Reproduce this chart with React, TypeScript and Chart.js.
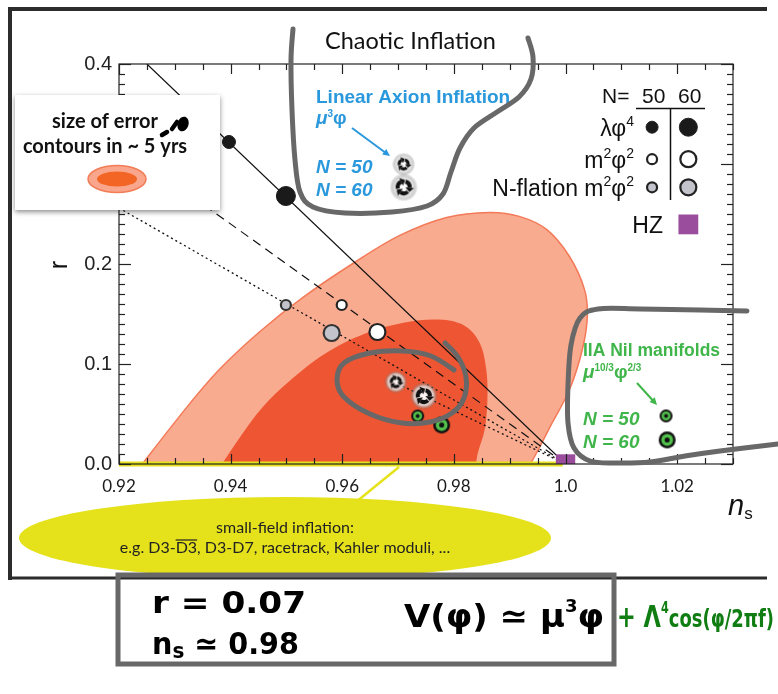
import React, { useEffect, useRef } from "react";
import { Chart, registerables } from "chart.js";

Chart.register(...registerables);

// ---------------- axes ----------------
const xRange = [0.92, 1.03];
const yRange = [0, 0.4];
const xTickValues = [0.92, 0.94, 0.96, 0.98, 1.0, 1.02];
const xTickLabels = ["0.92", "0.94", "0.96", "0.98", "1.0", "1.02"];
const yTickValues = [0, 0.1, 0.2, 0.3, 0.4];
const yTickLabels = ["0.0", "0.1", "0.2", "0.3", "0.4"];

// ---------------- error contours (ns, r) ----------------
const outerContourNs = [0.9225, 0.9322, 0.9381, 0.9452, 0.9529, 0.9619, 0.9703, 0.9787, 0.9864, 0.9917, 0.9966, 1.0007, 1.0034, 1.0039, 1.003, 1.0007, 0.9976, 0.9948, 0.9925];
const outerContourR = [-0.012, 0.0571, 0.0952, 0.1323, 0.1664, 0.2005, 0.2286, 0.2466, 0.2516, 0.2476, 0.2346, 0.2075, 0.1744, 0.1474, 0.1143, 0.0742, 0.0411, 0.011, -0.012];
const innerContourNs = [0.937, 0.9417, 0.9456, 0.9506, 0.9569, 0.964, 0.9712, 0.9774, 0.9819, 0.9846, 0.9858, 0.986, 0.9855, 0.9842, 0.9838];
const innerContourR = [-0.012, 0.0271, 0.0561, 0.0832, 0.1103, 0.1303, 0.1414, 0.1444, 0.1383, 0.1213, 0.0942, 0.0642, 0.0341, 0.009, -0.012];

// ---------------- model lines ----------------
const phi4LineNs = [0.925, 1.0];
const phi4LineR = [0.4, 0.0];
const m2LineNs = [0.92, 1.0];
const m2LineR = [0.32, 0.0];
const nflationLineNs = [0.92, 1.0];
const nflationLineR = [0.256, 0.0];
const axionLineNs = [0.97, 1.0];
const axionLineR = [0.08, 0.0];
const smallFieldNs = [0.92, 0.9995];
const smallFieldR = [0.0, 0.0];

// ---------------- model points (N = 50, N = 60) ----------------
const phi4Ns = [0.9397, 0.9499];
const phi4R = [0.322, 0.268];
const m2Ns = [0.9599, 0.9663];
const m2R = [0.159, 0.132];
const nflationNs = [0.9499, 0.9581];
const nflationR = [0.159, 0.131];
const axionNs = [0.9696, 0.9746];
const axionR = [0.082, 0.068];
const nilNs = [0.9735, 0.9778];
const nilR = [0.048, 0.039];
const hzNs = [1.0];
const hzR = [0.0];

// ---------------- legend marker positions (data coords) ----------------
const legendSmallNs = 1.0155;
const legendLargeNs = 1.022;
const legendRowR = [0.3368, 0.3048, 0.2767];
const legendHzR = 0.2396;
const axionKeyNs = [0.971, 0.971];
const axionKeyR = [0.2998, 0.2767];
const nilKeyNs = [1.018, 1.0182];
const nilKeyR = [0.0481, 0.0241];

const SANS = "'Liberation Sans', Arial, sans-serif";
const GILL = "Lato, 'Open Sans', sans-serif";
const HAND = "'DejaVu Sans', sans-serif";
const BLUE = "#2a98dc";
const GREEN = "#3fb54a";
const GRAY = "#686868";
const YELLOW = "#e5e21c";

const pts = (xs: number[], ys: number[]) => xs.map((x, i) => ({ x, y: ys[i] }));

function makeRecycle(size: number): HTMLCanvasElement {
  const pad = 4;
  const c = document.createElement("canvas");
  c.width = c.height = size + pad * 2;
  const g = c.getContext("2d")!;
  const cx = c.width / 2, cy = c.height / 2, R = size / 2;
  const grad = g.createRadialGradient(cx, cy, R * 0.2, cx, cy, R + pad);
  grad.addColorStop(0, "rgba(255,255,255,0.95)");
  grad.addColorStop(0.65, "rgba(215,215,215,0.85)");
  grad.addColorStop(1, "rgba(90,90,90,0)");
  g.fillStyle = grad;
  g.beginPath();
  g.arc(cx, cy, R + pad, 0, Math.PI * 2);
  g.fill();
  g.strokeStyle = "#111";
  g.fillStyle = "#111";
  g.lineWidth = Math.max(2, size * 0.2);
  for (let k = 0; k < 3; k++) {
    const a0 = -Math.PI / 2 + (k * 2 * Math.PI) / 3 + 0.3;
    const a1 = a0 + (2 * Math.PI) / 3 - 0.75;
    g.beginPath();
    g.arc(cx, cy, R * 0.6, a0, a1);
    g.stroke();
    const hx = cx + R * 0.6 * Math.cos(a1), hy = cy + R * 0.6 * Math.sin(a1);
    const t = a1 + Math.PI / 2;
    const s = size * 0.22;
    g.beginPath();
    g.moveTo(hx + Math.cos(t) * s, hy + Math.sin(t) * s);
    g.lineTo(hx + Math.cos(t - Math.PI / 2) * s, hy + Math.sin(t - Math.PI / 2) * s);
    g.lineTo(hx + Math.cos(t + Math.PI / 2) * s, hy + Math.sin(t + Math.PI / 2) * s);
    g.closePath();
    g.fill();
  }
  return c;
}

function makeNil(R: number, ring: number): HTMLCanvasElement {
  const c = document.createElement("canvas");
  c.width = c.height = Math.ceil(2 * R + 2);
  const g = c.getContext("2d")!;
  const cx = c.width / 2, cy = c.height / 2;
  const circ = (r: number, col: string) => {
    g.fillStyle = col;
    g.beginPath();
    g.arc(cx, cy, r, 0, Math.PI * 2);
    g.fill();
  };
  circ(R, "#111");
  circ(R - ring, "#52c04c");
  circ(R * 0.3, "#111");
  return c;
}

type Part = { t: string; font: string; dy?: number };
function drawParts(
  ctx: CanvasRenderingContext2D,
  x: number,
  y: number,
  parts: Part[],
  color: string,
  align: "left" | "right" | "center" = "left",
  fitWidth?: number
) {
  ctx.save();
  ctx.textAlign = "left";
  ctx.textBaseline = "alphabetic";
  ctx.fillStyle = color;
  let total = 0;
  const ws = parts.map((p) => {
    ctx.font = p.font;
    const w = ctx.measureText(p.t).width;
    total += w;
    return w;
  });
  const sx = fitWidth ? fitWidth / total : 1;
  const W = total * sx;
  const x0 = align === "left" ? x : align === "right" ? x - W : x - W / 2;
  ctx.translate(x0, y);
  ctx.scale(sx, 1);
  let cx = 0;
  parts.forEach((p, i) => {
    ctx.font = p.font;
    ctx.fillText(p.t, cx, p.dy || 0);
    cx += ws[i];
  });
  ctx.restore();
}

function arrow(ctx: CanvasRenderingContext2D, x1: number, y1: number, x2: number, y2: number, color: string) {
  const a = Math.atan2(y2 - y1, x2 - x1);
  const hs = 8;
  ctx.save();
  ctx.strokeStyle = color;
  ctx.fillStyle = color;
  ctx.lineWidth = 2;
  ctx.beginPath();
  ctx.moveTo(x1, y1);
  ctx.lineTo(x2 - Math.cos(a) * hs * 0.8, y2 - Math.sin(a) * hs * 0.8);
  ctx.stroke();
  ctx.beginPath();
  ctx.moveTo(x2, y2);
  ctx.lineTo(x2 - hs * Math.cos(a - 0.45), y2 - hs * Math.sin(a - 0.45));
  ctx.lineTo(x2 - hs * Math.cos(a + 0.45), y2 - hs * Math.sin(a + 0.45));
  ctx.closePath();
  ctx.fill();
  ctx.restore();
}

function smooth(ctx: CanvasRenderingContext2D, p: number[][]) {
  ctx.beginPath();
  ctx.moveTo(p[0][0], p[0][1]);
  for (let i = 0; i < p.length - 1; i++) {
    const p0 = p[i - 1] || p[i];
    const p1 = p[i];
    const p2 = p[i + 1];
    const p3 = p[i + 2] || p2;
    ctx.bezierCurveTo(
      p1[0] + (p2[0] - p0[0]) / 6,
      p1[1] + (p2[1] - p0[1]) / 6,
      p2[0] - (p3[0] - p1[0]) / 6,
      p2[1] - (p3[1] - p1[1]) / 6,
      p2[0],
      p2[1]
    );
  }
  ctx.stroke();
}

const decorPlugin = {
  id: "decor",
  afterDraw(chart: any) {
    const { ctx, chartArea: a } = chart;
    const xs = chart.scales.x, ys = chart.scales.y;
    ctx.save();

    // plot frame & inward ticks
    ctx.strokeStyle = "#222";
    ctx.lineWidth = 1.2;
    ctx.strokeRect(a.left, a.top, a.right - a.left, a.bottom - a.top);
    const seg = (x1: number, y1: number, x2: number, y2: number) => {
      ctx.beginPath();
      ctx.moveTo(x1, y1);
      ctx.lineTo(x2, y2);
      ctx.stroke();
    };
    for (let i = 0; i <= 40; i++) {
      const yy = Math.round(ys.getPixelForValue(i * 0.01)) + 0.5;
      const L = i % 10 === 0 ? 12 : 6;
      seg(a.left, yy, a.left + L, yy);
      seg(a.right, yy, a.right - L, yy);
    }
    for (let i = 0; i <= 22; i++) {
      const xx = Math.round(xs.getPixelForValue(0.92 + i * 0.005)) + 0.5;
      const L = i % 4 === 0 ? 10 : 6;
      seg(xx, a.bottom, xx, a.bottom - L);
      seg(xx, a.top, xx, a.top + L);
    }

    // axis titles
    ctx.save();
    ctx.translate(60, 265);
    ctx.rotate(-Math.PI / 2);
    ctx.font = `25px ${SANS}`;
    ctx.fillStyle = "#111";
    ctx.textAlign = "center";
    ctx.textBaseline = "middle";
    ctx.fillText("r", 0, 0);
    ctx.restore();
    drawParts(ctx, 728, 515, [
      { t: "n", font: `italic 29px ${SANS}` },
      { t: "s", font: `17px ${SANS}`, dy: 4 },
    ], "#111");

    // legend (top right)
    const lf = `21px ${SANS}`;
    const rf = `23px ${SANS}`;
    const sf = `14px ${SANS}`;
    drawParts(ctx, 602, 103, [{ t: "N=", font: lf }], "#111");
    drawParts(ctx, 642, 103, [{ t: "50", font: lf }], "#111");
    drawParts(ctx, 678, 103, [{ t: "60", font: lf }], "#111");
    ctx.strokeStyle = "#111";
    ctx.lineWidth = 1.5;
    seg(636, 108.5, 705, 108.5);
    seg(670.5, 108, 670.5, 200);
    drawParts(ctx, 634, 136, [{ t: "λφ", font: rf }, { t: "4", font: sf, dy: -10 }], "#111", "right");
    drawParts(ctx, 634, 168, [{ t: "m", font: rf }, { t: "2", font: sf, dy: -10 }, { t: "φ", font: rf }, { t: "2", font: sf, dy: -10 }], "#111", "right");
    drawParts(ctx, 634, 196, [{ t: "N-flation m", font: rf }, { t: "2", font: sf, dy: -10 }, { t: "φ", font: rf }, { t: "2", font: sf, dy: -10 }], "#111", "right");
    drawParts(ctx, 663, 233, [{ t: "HZ", font: rf }], "#111", "right");

    // Chaotic Inflation title
    drawParts(ctx, 325, 49, [{ t: "Chaotic Inflation", font: `23.5px ${GILL}` }], "#111");

    // Linear axion labels
    const bf = `bold 19px ${SANS}`;
    const bif = `italic bold 19px ${SANS}`;
    drawParts(ctx, 316, 103, [{ t: "Linear Axion Inflation", font: bf }], BLUE);
    drawParts(ctx, 316, 124, [{ t: "μ", font: bif }, { t: "3", font: `bold 10px ${SANS}`, dy: -7 }, { t: "φ", font: bf }], BLUE);
    arrow(ctx, 352, 128, 390, 156, BLUE);
    drawParts(ctx, 316, 173, [{ t: "N = 50", font: bif }], BLUE);
    drawParts(ctx, 316, 196, [{ t: "N = 60", font: bif }], BLUE);

    // IIA Nil manifold labels
    drawParts(ctx, 583, 356, [{ t: "IIA Nil manifolds", font: `bold 17.5px ${SANS}` }], GREEN);
    drawParts(ctx, 583, 378, [
      { t: "μ", font: bif },
      { t: "10/3", font: `bold 10px ${SANS}`, dy: -7 },
      { t: "φ", font: bf },
      { t: "2/3", font: `bold 10px ${SANS}`, dy: -7 },
    ], GREEN);
    arrow(ctx, 637, 383, 657, 405, GREEN);
    drawParts(ctx, 583, 425, [{ t: "N = 50", font: bif }], GREEN);
    drawParts(ctx, 583, 448, [{ t: "N = 60", font: bif }], GREEN);

    // left key box
    ctx.save();
    ctx.shadowColor = "rgba(0,0,0,0.45)";
    ctx.shadowBlur = 5;
    ctx.shadowOffsetX = 0;
    ctx.shadowOffsetY = 2;
    ctx.fillStyle = "#fff";
    ctx.fillRect(15, 95, 205, 115);
    ctx.restore();
    drawParts(ctx, 105, 128, [{ t: "size of error", font: `bold 20px ${GILL}` }], "#111", "center");
    drawParts(ctx, 105, 153, [{ t: "contours in ~ 5 yrs", font: `bold 20px ${GILL}` }], "#111", "center");
    ctx.beginPath();
    ctx.ellipse(117, 179, 29, 13.5, 0, 0, Math.PI * 2);
    ctx.fillStyle = "#f9a68c";
    ctx.fill();
    ctx.strokeStyle = "#f27c55";
    ctx.lineWidth = 1.5;
    ctx.stroke();
    ctx.beginPath();
    ctx.ellipse(117, 179, 20, 7.5, 0, 0, Math.PI * 2);
    ctx.fillStyle = "#f26524";
    ctx.fill();
    // handwritten blob
    ctx.strokeStyle = "#000";
    ctx.fillStyle = "#000";
    ctx.lineCap = "round";
    ctx.lineWidth = 4.5;
    seg(162, 135, 167, 132);
    seg(172, 129, 177, 122);
    ctx.beginPath();
    ctx.ellipse(183, 124, 5.5, 7.5, 0.3, 0, Math.PI * 2);
    ctx.fill();

    // small-field inflation callout
    ctx.strokeStyle = YELLOW;
    ctx.lineWidth = 2.5;
    ctx.lineCap = "butt";
    seg(399, 467, 356, 502);
    ctx.beginPath();
    ctx.ellipse(285, 538, 266, 41, 0, 0, Math.PI * 2);
    ctx.fillStyle = YELLOW;
    ctx.fill();
    const yf = `16px ${GILL}`;
    drawParts(ctx, 285, 533, [{ t: "small-field inflation:", font: yf }], "#222", "center");
    ctx.font = yf;
    const p1 = "e.g. D3-", p2 = "D3", p3 = ", D3-D7, racetrack, Kahler moduli, ...";
    const w1 = ctx.measureText(p1).width, w2 = ctx.measureText(p2).width, w3 = ctx.measureText(p3).width;
    const sx = 285 - (w1 + w2 + w3) / 2;
    drawParts(ctx, sx, 553, [{ t: p1, font: yf }, { t: p2, font: yf }, { t: p3, font: yf }], "#222");
    ctx.strokeStyle = "#222";
    ctx.lineWidth = 1.2;
    seg(sx + w1, 540, sx + w1 + w2, 540);

    // outer figure frame
    ctx.strokeStyle = "#2c2c2c";
    ctx.lineCap = "butt";
    ctx.lineWidth = 4;
    seg(10, 7, 10, 580);
    seg(8, 9, 767, 9);
    ctx.lineWidth = 3;
    seg(10, 578, 767, 578);

    // grey handwritten annotations
    ctx.strokeStyle = GRAY;
    ctx.lineWidth = 5;
    ctx.lineCap = "round";
    ctx.lineJoin = "round";
    smooth(ctx, [[293, 29], [291, 60], [292, 110], [295, 160], [300, 192], [313, 207], [345, 213], [392, 212], [427, 206], [443, 194], [451, 172], [460, 148], [474, 128], [497, 112], [519, 97], [531, 79], [533, 57], [528, 38]]);
    smooth(ctx, [[747, 311], [700, 310], [640, 309], [598, 309], [580, 318], [571, 345], [568, 385], [568, 423], [574, 448], [590, 461], [615, 463], [650, 462], [685, 456], [720, 451], [778, 444]]);
    smooth(ctx, [[445, 343], [458, 357], [466, 377], [464, 398], [452, 413], [430, 422], [402, 423], [370, 414], [344, 397], [337, 380], [344, 363], [370, 353], [403, 351], [431, 356], [454, 370]]);

    // handwritten box
    ctx.lineWidth = 5;
    ctx.lineJoin = "miter";
    ctx.strokeRect(118, 575, 496, 89);
    const hf = `bold 30px ${HAND}`;
    drawParts(ctx, 152, 613, [{ t: "r = 0.07", font: hf }], "#000", "left", 154);
    drawParts(ctx, 152, 654, [{ t: "n", font: hf }, { t: "s", font: `bold 21px ${HAND}`, dy: 4 }, { t: " ≃ 0.98", font: hf }], "#000", "left", 147);
    drawParts(ctx, 404, 627, [{ t: "V(φ) ≃ μ", font: `bold 32px ${HAND}` }, { t: "3", font: `bold 17px ${HAND}`, dy: -15 }, { t: "φ", font: `bold 32px ${HAND}` }], "#000", "left", 200);
    drawParts(ctx, 617, 627, [
      { t: "+ Λ", font: `bold 30px ${HAND}` },
      { t: "4", font: `bold 15px ${HAND}`, dy: -14 },
      { t: "cos(φ/2πf)", font: `bold 24px ${HAND}` },
    ], "#0f7d12", "left", 157);

    ctx.restore();
  },
};

export default function App() {
  const ref = useRef<HTMLCanvasElement>(null);
  useEffect(() => {
    const canvas = ref.current!;
    const recycleSmall = makeRecycle(15);
    const recycleLarge = makeRecycle(20);
    const nilSmall = makeNil(6.5, 2);
    const nilLarge = makeNil(8.5, 2.6);

    const lineDs = (xs: number[], ys: number[], color: string, width: number, dash: number[] = []) => ({
      data: pts(xs, ys),
      showLine: true,
      borderColor: color,
      borderWidth: width,
      borderDash: dash,
      pointRadius: 0,
      fill: false,
      tension: 0,
    });

    const datasets: any[] = [
      // legend markers
      {
        data: legendRowR.map((r) => ({ x: legendSmallNs, y: r })),
        pointRadius: [6, 5, 5],
        pointBackgroundColor: ["#1a1a1a", "#ffffff", "#c3c3cb"],
        pointBorderColor: "#222",
        pointBorderWidth: [1, 2.2, 2.2],
      },
      {
        data: legendRowR.map((r) => ({ x: legendLargeNs, y: r })),
        pointRadius: [9, 8, 8],
        pointBackgroundColor: ["#1a1a1a", "#ffffff", "#c3c3cb"],
        pointBorderColor: "#222",
        pointBorderWidth: [1, 2.2, 2.2],
      },
      { data: [{ x: legendLargeNs, y: legendHzR }], pointStyle: "rect", pointRadius: 14, pointBackgroundColor: "#9b4d9d", pointBorderWidth: 0 },
      { data: pts(axionKeyNs, axionKeyR), pointStyle: [recycleSmall, recycleLarge] },
      { data: pts(nilKeyNs, nilKeyR), pointStyle: [nilSmall, nilLarge] },
      // model predictions
      { data: pts(nilNs, nilR), pointStyle: [nilSmall, nilLarge] },
      { data: pts(axionNs, axionR), pointStyle: [recycleSmall, recycleLarge] },
      { data: pts(phi4Ns, phi4R), pointRadius: [6.5, 9.5], pointBackgroundColor: "#1a1a1a", pointBorderColor: "#1a1a1a", pointBorderWidth: 1 },
      { data: pts(m2Ns, m2R), pointRadius: [5, 8], pointBackgroundColor: "#ffffff", pointBorderColor: "#222", pointBorderWidth: 2.2 },
      { data: pts(nflationNs, nflationR), pointRadius: [5, 8], pointBackgroundColor: "#c3c3cb", pointBorderColor: "#333", pointBorderWidth: 2.2 },
      { data: pts(hzNs, hzR), pointStyle: "rect", pointRadius: 13.7, pointBackgroundColor: "#9b4d9d", pointBorderWidth: 0, clip: 0 },
      // lines
      lineDs(phi4LineNs, phi4LineR, "#111", 1.2),
      lineDs(m2LineNs, m2LineR, "#111", 1.2, [9, 6]),
      lineDs(nflationLineNs, nflationLineR, "#111", 1.3, [2, 3]),
      lineDs(axionLineNs, axionLineR, "#111", 1.3, [2, 3]),
      { ...lineDs(smallFieldNs, smallFieldR, YELLOW, 5), clip: false },
      // contours
      {
        data: pts(innerContourNs, innerContourR),
        showLine: true,
        tension: 0.35,
        borderWidth: 0,
        borderColor: "rgba(0,0,0,0)",
        backgroundColor: "#ee5633",
        fill: "shape",
        pointRadius: 0,
        clip: 0,
      },
      {
        data: pts(outerContourNs, outerContourR),
        showLine: true,
        tension: 0.35,
        borderWidth: 1.5,
        borderColor: "#f37a58",
        backgroundColor: "#f9ab90",
        fill: "shape",
        pointRadius: 0,
        clip: 0,
      },
    ];

    const chart = new Chart(canvas, {
      type: "scatter",
      data: { datasets },
      options: {
        animation: false,
        responsive: false,
        devicePixelRatio: 1,
        events: [],
        layout: { padding: { left: 0, top: 64, right: 45, bottom: 190 } },
        plugins: { legend: { display: false }, tooltip: { enabled: false } },
        scales: {
          x: {
            type: "linear",
            min: xRange[0],
            max: xRange[1],
            grid: { display: false, drawTicks: false },
            border: { display: false },
            afterBuildTicks: (s: any) => {
              s.ticks = xTickValues.map((v) => ({ value: v }));
            },
            afterFit: (s: any) => {
              s.height = 40;
            },
            ticks: {
              padding: 12,
              color: "#1a1a1a",
              autoSkip: false,
              maxRotation: 0,
              font: { family: GILL, size: 17 },
              callback: (v: any) => {
                const i = xTickValues.findIndex((t) => Math.abs(t - v) < 1e-9);
                return i >= 0 ? xTickLabels[i] : "";
              },
            },
          },
          y: {
            type: "linear",
            min: yRange[0],
            max: yRange[1],
            grid: { display: false, drawTicks: false },
            border: { display: false },
            afterBuildTicks: (s: any) => {
              s.ticks = yTickValues.map((v) => ({ value: v }));
            },
            afterFit: (s: any) => {
              s.width = 119;
            },
            ticks: {
              padding: 7,
              color: "#222",
              autoSkip: false,
              font: { family: SANS, size: 20 },
              callback: (v: any) => {
                const i = yTickValues.findIndex((t) => Math.abs(t - v) < 1e-9);
                return i >= 0 ? yTickLabels[i] : "";
              },
            },
          },
        },
      } as any,
      plugins: [decorPlugin],
    });
    return () => chart.destroy();
  }, []);

  return (
    <div style={{ position: "fixed", left: 0, top: 0, width: 778, height: 694, background: "#fff" }}>
      <canvas ref={ref} width={778} height={694} style={{ display: "block", width: 778, height: 694 }} />
    </div>
  );
}
